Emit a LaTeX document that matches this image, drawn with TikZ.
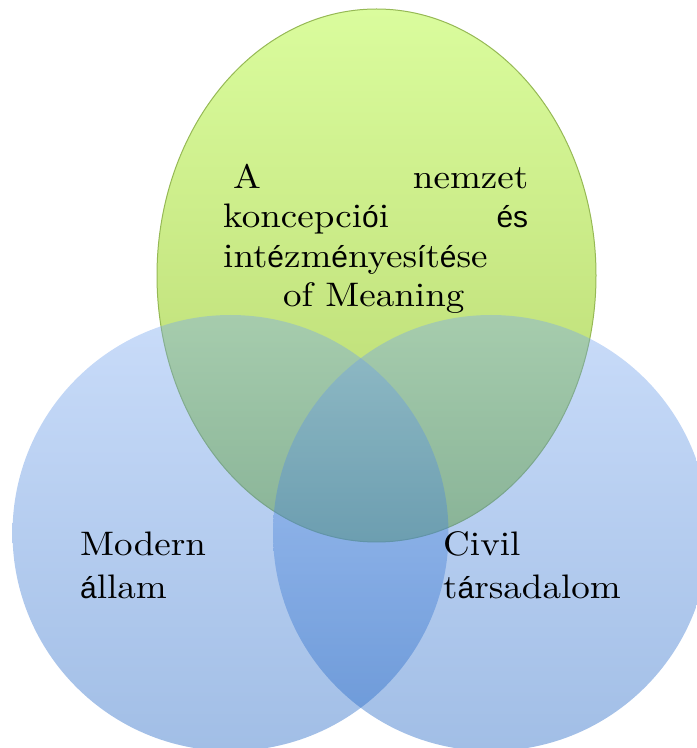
\documentclass[tikz,border=0pt]{standalone}
\usepackage{fontspec}
\setmainfont{lmroman10-regular.otf}[FakeStretch=1.09]
\newfontfamily\ekfont{Liberation Sans}[Scale=0.88]
\newcommand\ek[1]{{\ekfont #1}}
\definecolor{zoldfent}{RGB}{218,252,157}
\definecolor{zoldlent}{RGB}{182,213,108}
\definecolor{zoldszel}{RGB}{150,185,85}
\definecolor{korfent}{RGB}{120,167,240}
\definecolor{korlent}{RGB}{20,92,192}
\begin{document}
\begin{tikzpicture}[x=1pt,y=1pt,
  every node/.style={inner sep=0pt,anchor=base west,font=\fontsize{34}{40}\selectfont},
  kor/.style={top color=korfent,bottom color=korlent,fill opacity=0.4}]
\useasboundingbox (0,0) rectangle (697,748);
\def\r{218pt}
% the three sets
\shadedraw[top color=zoldfent,bottom color=zoldlent,draw=zoldszel,line width=1pt]
  (376.5,472.5) ellipse (219.5pt and 266.5pt);
\shade[kor] (230.5,215) circle (\r);
\shade[kor] (491,215) circle (\r);

\node (nemzet1) at (223,559) {\makebox[305pt][l]{\hspace{10pt}A\hfill nemzet}};
\node (nemzet2) at (223,520) {\makebox[305pt][l]{koncepci\ek{ó}i\hfill\ek{és}}};
\node (nemzet3) at (223,480) {int\ek{é}zm\ek{é}nyes\ek{í}t\ek{é}se};
\node (nemzet4) at (283,441) {of Meaning};
\node (allam1) at (80,192) {Modern};
\node (allam2) at (80,149) {\ek{á}llam};
\node (civil1) at (443,192) {Civil};
\node (civil2) at (443,149) {t\ek{á}rsadalom};
\end{tikzpicture}
\end{document}
